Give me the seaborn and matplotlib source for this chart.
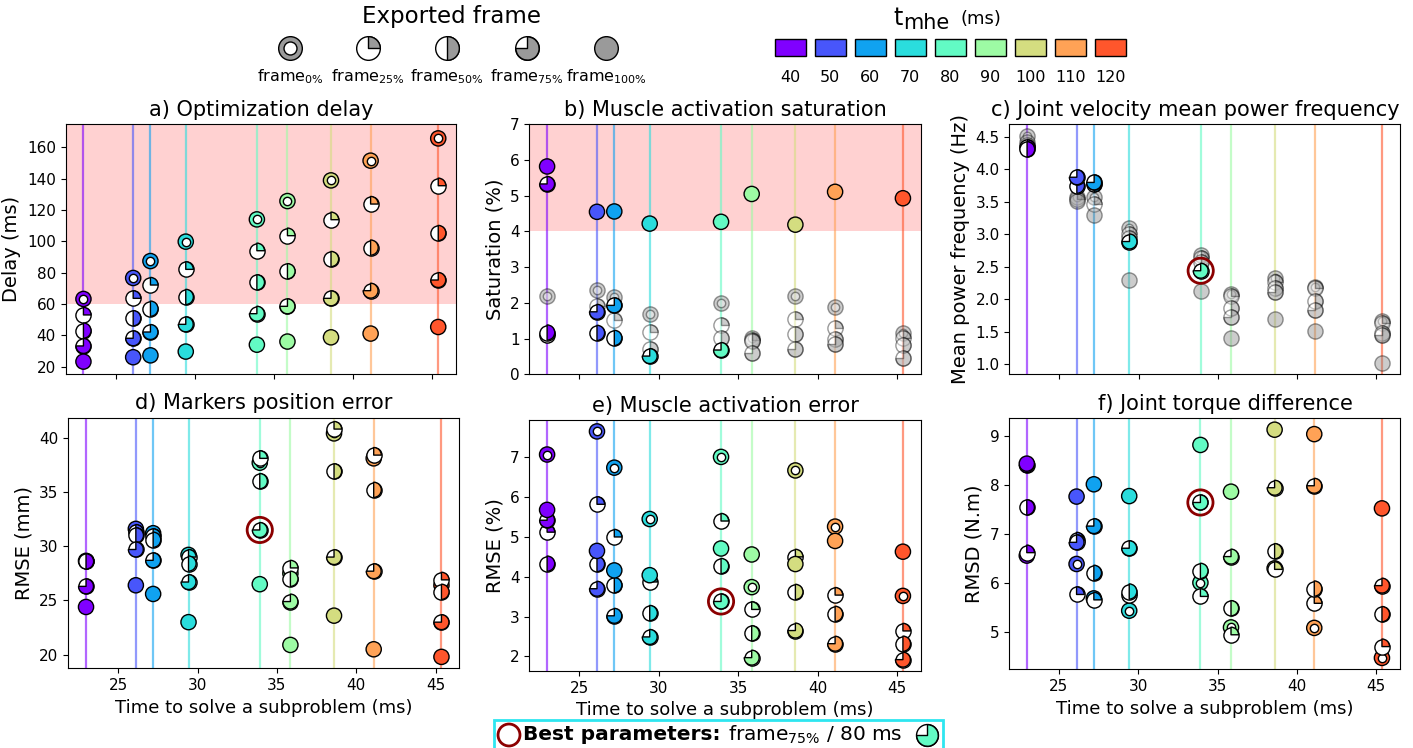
import numpy as np
import pandas as pd
import matplotlib
import matplotlib.pyplot as plt
from matplotlib.path import Path
from matplotlib.patches import Rectangle
import seaborn as sns

matplotlib.use('Agg')

# ---- data ------------------------------------------------------------------
TMHE = [40, 50, 60, 70, 80, 90, 100, 110, 120]
FRAMES = [0, 25, 50, 75, 100]
FRAME_LABELS = [r"frame$_{0\%}$", r"frame$_{25\%}$", r"frame$_{50\%}$",
                r"frame$_{75\%}$", r"frame$_{100\%}$"]
solve_time = [22.97, 26.11, 27.20, 29.43, 33.92, 35.85, 38.60, 41.10, 45.37]

# one row per t_mhe, one column per exported frame (0, 25, 50, 75, 100 %)
delay = [
    [63.2, 53.0, 43.0, 33.2, 23.2],
    [76.6, 63.6, 50.9, 38.1, 26.0],
    [87.4, 72.1, 57.0, 42.1, 27.2],
    [99.8, 82.1, 64.5, 47.0, 29.6],
    [114.0, 94.0, 73.8, 53.8, 34.0],
    [125.7, 103.6, 80.9, 58.5, 36.0],
    [138.9, 113.8, 88.7, 63.6, 38.7],
    [151.5, 123.8, 96.0, 68.5, 41.1],
    [165.7, 135.5, 105.3, 75.3, 45.3],
]
saturation = [
    [2.18, 1.10, 1.17, 5.33, 5.82],
    [2.35, 1.92, 1.16, 1.75, 4.55],
    [2.17, 1.53, 1.02, 1.93, 4.56],
    [1.70, 1.19, 0.72, 0.51, 4.22],
    [2.01, 1.39, 1.02, 0.68, 4.27],
    [1.02, 0.97, 0.92, 0.60, 5.05],
    [2.19, 1.54, 1.12, 0.72, 4.19],
    [1.89, 1.30, 0.99, 0.84, 5.11],
    [1.15, 1.02, 0.82, 0.45, 4.93],
]
mean_freq = [
    [4.52, 4.35, 4.31, 4.38, 4.42],
    [3.57, 3.55, 3.75, 3.88, 3.52],
    [3.58, 3.47, 3.77, 3.80, 3.30],
    [3.10, 3.01, 2.94, 2.89, 2.30],
    [2.68, 2.63, 2.58, 2.44, 2.13],
    [2.08, 2.05, 1.86, 1.73, 1.41],
    [2.33, 2.27, 2.18, 2.12, 1.70],
    [2.19, 2.17, 1.98, 1.84, 1.51],
    [1.66, 1.64, 1.48, 1.45, 1.02],
]
marker_rmse = [
    [28.65, 28.6, 28.6, 26.3, 24.4],
    [31.6, 31.3, 31.0, 29.7, 26.4],
    [31.2, 30.9, 30.6, 28.7, 25.6],
    [29.2, 29.0, 28.4, 26.7, 23.0],
    [37.7, 38.1, 36.0, 31.5, 26.5],
    [27.5, 28.0, 27.0, 24.9, 20.9],
    [40.4, 40.8, 36.9, 29.0, 23.6],
    [38.1, 38.4, 35.2, 27.7, 20.5],
    [26.4, 26.9, 25.8, 23.0, 19.8],
]
activation_rmse = [
    [7.07, 5.12, 4.33, 5.42, 5.68],
    [7.65, 5.82, 4.32, 3.70, 4.65],
    [6.74, 5.00, 3.79, 3.02, 4.16],
    [5.45, 3.87, 3.09, 2.49, 4.04],
    [7.01, 5.40, 4.27, 3.38, 4.71],
    [3.74, 3.18, 2.58, 1.97, 4.56],
    [6.67, 4.50, 3.62, 2.65, 4.32],
    [5.26, 3.54, 3.07, 2.32, 4.90],
    [3.52, 2.64, 2.32, 1.92, 4.63],
]
torque_rmsd = [
    [6.56, 6.62, 7.54, 8.40, 8.43],
    [6.39, 5.77, 6.88, 6.83, 7.76],
    [5.69, 5.66, 6.21, 7.16, 8.01],
    [5.44, 5.75, 5.83, 6.71, 7.77],
    [6.01, 5.73, 6.25, 7.64, 8.81],
    [5.10, 4.95, 5.49, 6.54, 7.86],
    [6.30, 6.28, 6.65, 7.94, 9.12],
    [5.09, 5.59, 5.89, 7.98, 9.03],
    [4.48, 4.71, 5.37, 5.95, 7.52],
]
# 1 = greyed out (rejected by the constraint of a previous panel)
grey_saturation = [
    [1, 0, 0, 0, 0],
    [1, 1, 0, 0, 0],
    [1, 1, 0, 0, 0],
    [1, 1, 1, 0, 0],
    [1, 1, 1, 0, 0],
    [1, 1, 1, 1, 0],
    [1, 1, 1, 1, 0],
    [1, 1, 1, 1, 0],
    [1, 1, 1, 1, 0],
]
grey_mean_freq = [
    [1, 0, 0, 1, 1],
    [1, 1, 0, 0, 1],
    [1, 1, 0, 0, 1],
    [1, 1, 1, 0, 1],
    [1, 1, 1, 0, 1],
    [1, 1, 1, 1, 1],
    [1, 1, 1, 1, 1],
    [1, 1, 1, 1, 1],
    [1, 1, 1, 1, 1],
]
no_grey = [[0] * 5 for _ in TMHE]
delay_limit = 60
saturation_limit = 4
best_tmhe, best_frame = 80, 75

# ---- style -------------------------------------------------------------------
sns.set_theme(style="ticks", rc={
    "axes.edgecolor": "black", "axes.linewidth": 0.8,
    "xtick.major.size": 3.5, "ytick.major.size": 3.5,
    "xtick.major.width": 0.8, "ytick.major.width": 0.8,
    "xtick.color": "black", "ytick.color": "black",
    "text.color": "black", "axes.labelcolor": "black",
})
plt.rcParams["font.family"] = ["DejaVu Sans"]

colors = plt.cm.rainbow(np.arange(len(TMHE)) / len(TMHE))
palette = {t: colors[i] for i, t in enumerate(TMHE)}
GREY = "#808080"
MS = 120          # marker size in the panels
LEGEND_MS = 290   # marker size in the legends


def wedge(frac):
    # filled part starts at 12 o'clock and turns clockwise
    return Path.wedge(90 - 360 * frac, 90)


def to_frame(values, grey):
    rows = []
    for i, t in enumerate(TMHE):
        for j, f in enumerate(FRAMES):
            rows.append({"tmhe": t, "frame": f, "time": solve_time[i],
                         "value": values[i][j], "grey": bool(grey[i][j])})
    return pd.DataFrame(rows)


def draw_frames(ax, df, size, zorder, fill, blank, x="time", y="value"):
    """Draws the pie-like markers, one frame after the other."""
    for f in FRAMES:
        sub = df[df["frame"] == f]
        if sub.empty:
            continue
        if f == 0:
            layers = [("o", size, fill), ("o", size * 0.3, blank)]
        elif f == 100:
            layers = [("o", size, fill)]
        else:
            layers = [("o", size, blank), (wedge(f / 100), size, fill)]
        for marker, s, kw in layers:
            sns.scatterplot(data=sub, x=x, y=y, marker=marker, s=s,
                            edgecolor="black", linewidth=1, legend=False,
                            ax=ax, zorder=zorder, **kw)
            zorder += 0.01
    return zorder


panels = [
    ("a) Optimization delay", "Delay (ms)", delay, no_grey, delay_limit, (15.1, 174.7), False),
    ("b) Muscle activation saturation", "Saturation (%)", saturation, grey_saturation,
     saturation_limit, (0, 7), False),
    ("c) Joint velocity mean power frequency", "Mean power frequency (Hz)", mean_freq,
     grey_mean_freq, None, None, True),
    ("d) Markers position error", "RMSE (mm)", marker_rmse, no_grey, None, None, True),
    ("e) Muscle activation error", "RMSE (%)", activation_rmse, no_grey, None, None, True),
    ("f) Joint torque difference", "RMSD (N.m)", torque_rmsd, no_grey, None, None, True),
]
positions = [
    [0.0465, 0.4996, 0.2762, 0.3342],
    [0.3746, 0.4996, 0.2770, 0.3342],
    [0.7143, 0.4996, 0.2765, 0.3342],
    [0.0483, 0.1066, 0.2767, 0.3350],
    [0.3746, 0.1029, 0.2770, 0.3356],
    [0.7141, 0.1052, 0.2765, 0.3356],
]
title_x = [0.5, 0.5, 0.475, 0.5, 0.5, 0.554]

fig = plt.figure(figsize=(14.13, 7.48), dpi=100)

# overlay in pixel coordinates for the figure legends
lax = fig.add_axes([0, 0, 1, 1], zorder=0)

for k, (title, ylabel, values, grey, limit, ylim, best) in enumerate(panels):
    ax = fig.add_axes(positions[k], zorder=2)
    df = to_frame(values, grey)

    for i, t in enumerate(TMHE):
        ax.axvline(solve_time[i], color=colors[i], alpha=0.6, lw=1.6, zorder=1.5)
    if limit is not None:
        ax.axhspan(limit, 1000, color="red", alpha=0.18, lw=0, zorder=0.5)

    z = draw_frames(ax, df[df["grey"]], MS, 3,
                    fill=dict(color=GREY, alpha=0.4),
                    blank=dict(color="white", alpha=0.4))
    draw_frames(ax, df[~df["grey"]], MS, z,
                fill=dict(hue="tmhe", palette=palette, hue_order=TMHE),
                blank=dict(color="white"))
    if best:
        sel = df[(df["tmhe"] == best_tmhe) & (df["frame"] == best_frame)]
        sns.scatterplot(data=sel, x="time", y="value", marker="o", s=330,
                        facecolor="none", edgecolor="darkred", linewidth=2,
                        legend=False, ax=ax, zorder=10)

    if ylim is not None:
        ax.set_ylim(*ylim)
    ax.set_xticks([25, 30, 35, 40, 45])
    ax.set_title(title, fontsize=15, x=title_x[k])
    ax.set_ylabel(ylabel, fontsize=14)
    ax.tick_params(labelsize=11)
    if k < 3:
        ax.set_xlabel("")
        ax.tick_params(labelbottom=False)
    else:
        ax.set_xlabel("Time to solve a subproblem (ms)", fontsize=13)

# ---- legend: exported frame ---------------------------------------------------
leg_x = [290, 368, 447, 527, 606]
leg = pd.DataFrame({"frame": FRAMES, "x": leg_x, "y": [48] * 5})
lax.text(452, 16, "Exported frame", fontsize=16.5, ha="center", va="center")
draw_frames(lax, leg, LEGEND_MS, 1, fill=dict(color="#9a9a9a"),
            blank=dict(color="white"), x="x", y="y")
for xp, lab in zip(leg_x, FRAME_LABELS):
    lax.text(xp, 77, lab, fontsize=11.5, ha="center", va="center")

# ---- legend: t_mhe colours ----------------------------------------------------
lax.text(893, 25, "t", fontsize=17, ha="left", va="baseline")
lax.text(903, 28.5, "mhe", fontsize=15, ha="left", va="baseline")
lax.text(960, 24, "(ms)", fontsize=13, ha="left", va="baseline")
for i, t in enumerate(TMHE):
    x0 = 775 + 40 * i
    lax.add_patch(Rectangle((x0, 39.3), 30.7, 16.7, facecolor=colors[i],
                            edgecolor="black", lw=1))
    lax.text(x0 + 15.35, 77, str(t), fontsize=11.5, ha="center", va="center")

# ---- best parameters box -------------------------------------------------------
lax.add_patch(Rectangle((493.5, 719.5), 449, 45, facecolor="white",
                        edgecolor="#2ee6f0", lw=2))
ring = pd.DataFrame({"x": [509], "y": [735]})
sns.scatterplot(data=ring, x="x", y="y", marker="o", s=250, facecolor="none",
                edgecolor="darkred", linewidth=2, legend=False, ax=lax, zorder=3)
lax.text(523, 735, "Best parameters:", fontsize=14.5, fontweight="bold",
         ha="left", va="center")
lax.text(728, 735, r"frame$_{75\%}$ / 80 ms", fontsize=14.5, ha="left", va="center")
best_leg = pd.DataFrame({"frame": [best_frame], "x": [927], "y": [735],
                         "tmhe": [best_tmhe]})
draw_frames(lax, best_leg, 250, 3,
            fill=dict(hue="tmhe", palette=palette, hue_order=TMHE),
            blank=dict(color="white"), x="x", y="y")
lax.set_xlim(0, 1413)
lax.set_ylim(748, 0)
lax.set_axis_off()

fig.savefig("out.png", dpi=100)
plt.close(fig)
